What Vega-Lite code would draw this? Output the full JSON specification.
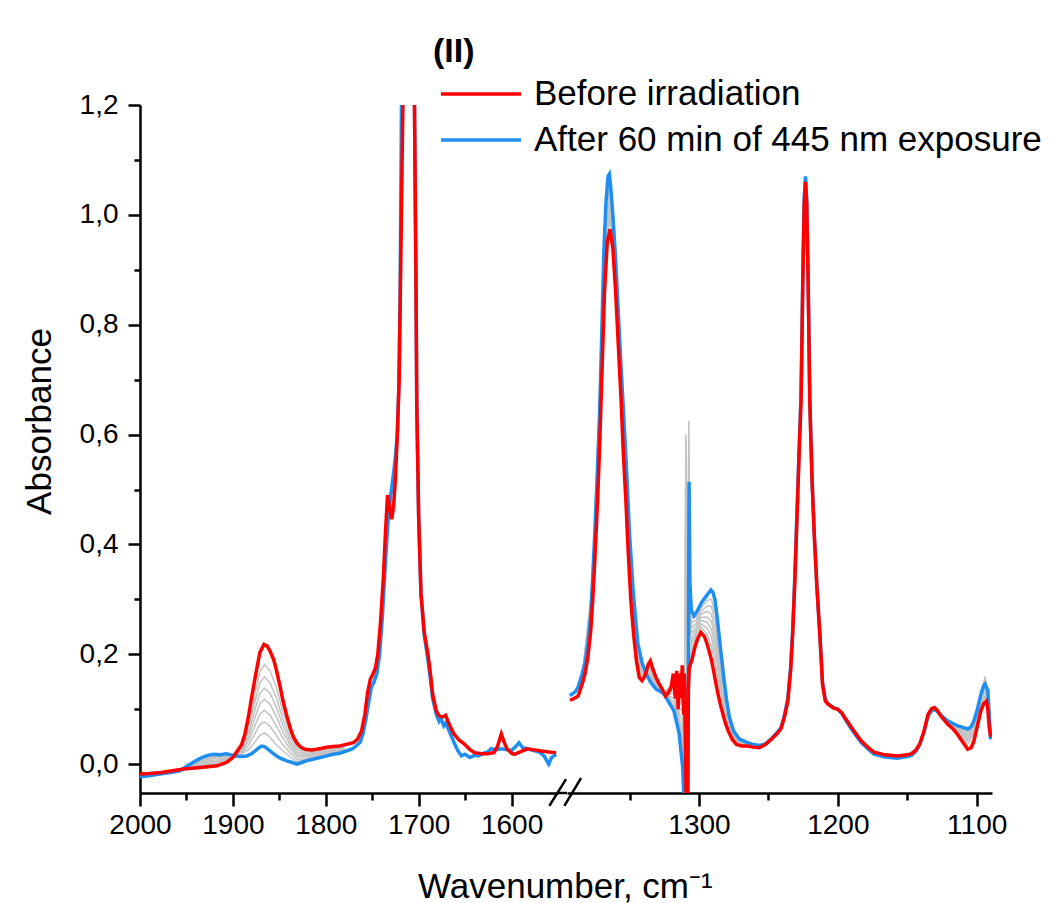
{
 "$schema": "https://vega.github.io/schema/vega-lite/v6.json",
 "background": "white",
 "padding": {"left": 22, "top": 35, "right": 5, "bottom": 5},
 "bounds": "flush",
 "spacing": 9,
 "title": {"text": "Wavenumber, cm⁻¹", "orient": "bottom", "anchor": "start", "frame": "group", "dx": 278, "fontSize": 35, "font": "Liberation Sans", "fontWeight": "normal", "color": "#000", "offset": 31},
 "datasets": {
  "redL": [
   {"s":"Before irradiation","wn":2000,"a":-0.018},{"s":"Before irradiation","wn":1990,"a":-0.017},{"s":"Before irradiation","wn":1977,"a":-0.015},{"s":"Before irradiation","wn":1965,"a":-0.012},{"s":"Before irradiation","wn":1953,"a":-0.009},{"s":"Before irradiation","wn":1935,"a":-0.006},{"s":"Before irradiation","wn":1917,"a":-0.003},{"s":"Before irradiation","wn":1907,"a":0.003},{"s":"Before irradiation","wn":1900,"a":0.012},{"s":"Before irradiation","wn":1896,"a":0.022},{"s":"Before irradiation","wn":1890.5,"a":0.036},{"s":"Before irradiation","wn":1887,"a":0.055},{"s":"Before irradiation","wn":1883.4,"a":0.085},{"s":"Before irradiation","wn":1880,"a":0.12},{"s":"Before irradiation","wn":1876,"a":0.158},{"s":"Before irradiation","wn":1871,"a":0.203},{"s":"Before irradiation","wn":1866.5,"a":0.218},{"s":"Before irradiation","wn":1863,"a":0.215},{"s":"Before irradiation","wn":1860,"a":0.206},{"s":"Before irradiation","wn":1856,"a":0.19},{"s":"Before irradiation","wn":1853,"a":0.17},{"s":"Before irradiation","wn":1849,"a":0.14},{"s":"Before irradiation","wn":1846,"a":0.115},{"s":"Before irradiation","wn":1842,"a":0.088},{"s":"Before irradiation","wn":1838.5,"a":0.067},{"s":"Before irradiation","wn":1835,"a":0.05},{"s":"Before irradiation","wn":1831.3,"a":0.039},{"s":"Before irradiation","wn":1827,"a":0.031},{"s":"Before irradiation","wn":1822.4,"a":0.027},{"s":"Before irradiation","wn":1815,"a":0.026},{"s":"Before irradiation","wn":1810,"a":0.027},{"s":"Before irradiation","wn":1804,"a":0.029},{"s":"Before irradiation","wn":1799,"a":0.031},{"s":"Before irradiation","wn":1792,"a":0.032},{"s":"Before irradiation","wn":1785,"a":0.033},{"s":"Before irradiation","wn":1778,"a":0.036},{"s":"Before irradiation","wn":1770.4,"a":0.039},{"s":"Before irradiation","wn":1766,"a":0.045},{"s":"Before irradiation","wn":1761.4,"a":0.061},{"s":"Before irradiation","wn":1758,"a":0.09},{"s":"Before irradiation","wn":1755,"a":0.13},{"s":"Before irradiation","wn":1752,"a":0.155},{"s":"Before irradiation","wn":1749,"a":0.165},{"s":"Before irradiation","wn":1746.5,"a":0.175},{"s":"Before irradiation","wn":1744,"a":0.2},{"s":"Before irradiation","wn":1741,"a":0.26},{"s":"Before irradiation","wn":1738,"a":0.34},{"s":"Before irradiation","wn":1735.5,"a":0.43},{"s":"Before irradiation","wn":1733.5,"a":0.49},{"s":"Before irradiation","wn":1731.5,"a":0.47},{"s":"Before irradiation","wn":1729,"a":0.446},{"s":"Before irradiation","wn":1727,"a":0.47},{"s":"Before irradiation","wn":1725,"a":0.52},{"s":"Before irradiation","wn":1723,"a":0.6},{"s":"Before irradiation","wn":1721,"a":0.7},{"s":"Before irradiation","wn":1719,"a":0.95},{"s":"Before irradiation","wn":1717,"a":1.2},{"s":"Before irradiation","wn":1714,"a":1.6},{"s":"Before irradiation","wn":1711,"a":1.9},{"s":"Before irradiation","wn":1707,"a":1.6},{"s":"Before irradiation","wn":1704.5,"a":1.2},{"s":"Before irradiation","wn":1703,"a":0.9},{"s":"Before irradiation","wn":1702,"a":0.65},{"s":"Before irradiation","wn":1700,"a":0.45},{"s":"Before irradiation","wn":1697.5,"a":0.31},{"s":"Before irradiation","wn":1694,"a":0.24},{"s":"Before irradiation","wn":1690,"a":0.2},{"s":"Before irradiation","wn":1687,"a":0.16},{"s":"Before irradiation","wn":1685,"a":0.128},{"s":"Before irradiation","wn":1681,"a":0.097},{"s":"Before irradiation","wn":1678,"a":0.088},{"s":"Before irradiation","wn":1674,"a":0.086},{"s":"Before irradiation","wn":1671,"a":0.089},{"s":"Before irradiation","wn":1667,"a":0.072},{"s":"Before irradiation","wn":1662,"a":0.055},{"s":"Before irradiation","wn":1656,"a":0.043},{"s":"Before irradiation","wn":1651,"a":0.037},{"s":"Before irradiation","wn":1645,"a":0.027},{"s":"Before irradiation","wn":1640,"a":0.021},{"s":"Before irradiation","wn":1632,"a":0.019},{"s":"Before irradiation","wn":1626,"a":0.019},{"s":"Before irradiation","wn":1619,"a":0.021},{"s":"Before irradiation","wn":1615,"a":0.033},{"s":"Before irradiation","wn":1611,"a":0.055},{"s":"Before irradiation","wn":1608,"a":0.04},{"s":"Before irradiation","wn":1605,"a":0.028},{"s":"Before irradiation","wn":1600,"a":0.02},{"s":"Before irradiation","wn":1597,"a":0.018},{"s":"Before irradiation","wn":1590,"a":0.023},{"s":"Before irradiation","wn":1583,"a":0.028},{"s":"Before irradiation","wn":1575,"a":0.026},{"s":"Before irradiation","wn":1568,"a":0.024},{"s":"Before irradiation","wn":1560,"a":0.022},{"s":"Before irradiation","wn":1552,"a":0.021}
  ],
  "blueL": [
   {"s":"After 60 min of 445 nm exposure","wn":2000,"a":-0.023},{"s":"After 60 min of 445 nm exposure","wn":1990,"a":-0.021},{"s":"After 60 min of 445 nm exposure","wn":1978.5,"a":-0.018},{"s":"After 60 min of 445 nm exposure","wn":1967,"a":-0.015},{"s":"After 60 min of 445 nm exposure","wn":1957,"a":-0.012},{"s":"After 60 min of 445 nm exposure","wn":1950,"a":-0.004},{"s":"After 60 min of 445 nm exposure","wn":1946,"a":0.0},{"s":"After 60 min of 445 nm exposure","wn":1940,"a":0.006},{"s":"After 60 min of 445 nm exposure","wn":1933.6,"a":0.012},{"s":"After 60 min of 445 nm exposure","wn":1927,"a":0.016},{"s":"After 60 min of 445 nm exposure","wn":1921,"a":0.018},{"s":"After 60 min of 445 nm exposure","wn":1914,"a":0.017},{"s":"After 60 min of 445 nm exposure","wn":1907,"a":0.019},{"s":"After 60 min of 445 nm exposure","wn":1900,"a":0.016},{"s":"After 60 min of 445 nm exposure","wn":1896.6,"a":0.015},{"s":"After 60 min of 445 nm exposure","wn":1891,"a":0.014},{"s":"After 60 min of 445 nm exposure","wn":1885,"a":0.015},{"s":"After 60 min of 445 nm exposure","wn":1880,"a":0.019},{"s":"After 60 min of 445 nm exposure","wn":1876,"a":0.024},{"s":"After 60 min of 445 nm exposure","wn":1872,"a":0.03},{"s":"After 60 min of 445 nm exposure","wn":1869,"a":0.033},{"s":"After 60 min of 445 nm exposure","wn":1866,"a":0.032},{"s":"After 60 min of 445 nm exposure","wn":1862,"a":0.027},{"s":"After 60 min of 445 nm exposure","wn":1857,"a":0.02},{"s":"After 60 min of 445 nm exposure","wn":1853,"a":0.015},{"s":"After 60 min of 445 nm exposure","wn":1848,"a":0.01},{"s":"After 60 min of 445 nm exposure","wn":1842,"a":0.006},{"s":"After 60 min of 445 nm exposure","wn":1836,"a":0.003},{"s":"After 60 min of 445 nm exposure","wn":1831,"a":0.0},{"s":"After 60 min of 445 nm exposure","wn":1826,"a":0.003},{"s":"After 60 min of 445 nm exposure","wn":1821,"a":0.006},{"s":"After 60 min of 445 nm exposure","wn":1814,"a":0.009},{"s":"After 60 min of 445 nm exposure","wn":1806,"a":0.012},{"s":"After 60 min of 445 nm exposure","wn":1799,"a":0.015},{"s":"After 60 min of 445 nm exposure","wn":1792,"a":0.018},{"s":"After 60 min of 445 nm exposure","wn":1785,"a":0.02},{"s":"After 60 min of 445 nm exposure","wn":1778,"a":0.024},{"s":"After 60 min of 445 nm exposure","wn":1771,"a":0.028},{"s":"After 60 min of 445 nm exposure","wn":1767.5,"a":0.033},{"s":"After 60 min of 445 nm exposure","wn":1763,"a":0.04},{"s":"After 60 min of 445 nm exposure","wn":1760,"a":0.055},{"s":"After 60 min of 445 nm exposure","wn":1757,"a":0.08},{"s":"After 60 min of 445 nm exposure","wn":1754,"a":0.11},{"s":"After 60 min of 445 nm exposure","wn":1751,"a":0.14},{"s":"After 60 min of 445 nm exposure","wn":1748,"a":0.15},{"s":"After 60 min of 445 nm exposure","wn":1745,"a":0.165},{"s":"After 60 min of 445 nm exposure","wn":1742,"a":0.2},{"s":"After 60 min of 445 nm exposure","wn":1739,"a":0.27},{"s":"After 60 min of 445 nm exposure","wn":1736,"a":0.36},{"s":"After 60 min of 445 nm exposure","wn":1733,"a":0.44},{"s":"After 60 min of 445 nm exposure","wn":1730,"a":0.49},{"s":"After 60 min of 445 nm exposure","wn":1727,"a":0.53},{"s":"After 60 min of 445 nm exposure","wn":1725,"a":0.56},{"s":"After 60 min of 445 nm exposure","wn":1723,"a":0.6},{"s":"After 60 min of 445 nm exposure","wn":1721.5,"a":0.68},{"s":"After 60 min of 445 nm exposure","wn":1720,"a":0.85},{"s":"After 60 min of 445 nm exposure","wn":1718.5,"a":1.2},{"s":"After 60 min of 445 nm exposure","wn":1716,"a":1.6},{"s":"After 60 min of 445 nm exposure","wn":1711,"a":1.9},{"s":"After 60 min of 445 nm exposure","wn":1707,"a":1.6},{"s":"After 60 min of 445 nm exposure","wn":1704.5,"a":1.2},{"s":"After 60 min of 445 nm exposure","wn":1703,"a":0.9},{"s":"After 60 min of 445 nm exposure","wn":1702,"a":0.65},{"s":"After 60 min of 445 nm exposure","wn":1700,"a":0.45},{"s":"After 60 min of 445 nm exposure","wn":1697.5,"a":0.31},{"s":"After 60 min of 445 nm exposure","wn":1694,"a":0.235},{"s":"After 60 min of 445 nm exposure","wn":1690,"a":0.19},{"s":"After 60 min of 445 nm exposure","wn":1687,"a":0.15},{"s":"After 60 min of 445 nm exposure","wn":1685,"a":0.12},{"s":"After 60 min of 445 nm exposure","wn":1681,"a":0.09},{"s":"After 60 min of 445 nm exposure","wn":1678,"a":0.078},{"s":"After 60 min of 445 nm exposure","wn":1676,"a":0.083},{"s":"After 60 min of 445 nm exposure","wn":1673,"a":0.07},{"s":"After 60 min of 445 nm exposure","wn":1671,"a":0.075},{"s":"After 60 min of 445 nm exposure","wn":1667,"a":0.06},{"s":"After 60 min of 445 nm exposure","wn":1662,"a":0.04},{"s":"After 60 min of 445 nm exposure","wn":1658,"a":0.025},{"s":"After 60 min of 445 nm exposure","wn":1654,"a":0.015},{"s":"After 60 min of 445 nm exposure","wn":1650,"a":0.018},{"s":"After 60 min of 445 nm exposure","wn":1645,"a":0.012},{"s":"After 60 min of 445 nm exposure","wn":1640,"a":0.016},{"s":"After 60 min of 445 nm exposure","wn":1636,"a":0.015},{"s":"After 60 min of 445 nm exposure","wn":1630,"a":0.02},{"s":"After 60 min of 445 nm exposure","wn":1626,"a":0.022},{"s":"After 60 min of 445 nm exposure","wn":1622,"a":0.028},{"s":"After 60 min of 445 nm exposure","wn":1617,"a":0.026},{"s":"After 60 min of 445 nm exposure","wn":1611,"a":0.028},{"s":"After 60 min of 445 nm exposure","wn":1605,"a":0.026},{"s":"After 60 min of 445 nm exposure","wn":1600,"a":0.025},{"s":"After 60 min of 445 nm exposure","wn":1595,"a":0.033},{"s":"After 60 min of 445 nm exposure","wn":1592,"a":0.039},{"s":"After 60 min of 445 nm exposure","wn":1588,"a":0.03},{"s":"After 60 min of 445 nm exposure","wn":1583,"a":0.028},{"s":"After 60 min of 445 nm exposure","wn":1577,"a":0.025},{"s":"After 60 min of 445 nm exposure","wn":1570,"a":0.022},{"s":"After 60 min of 445 nm exposure","wn":1565,"a":0.015},{"s":"After 60 min of 445 nm exposure","wn":1560,"a":0.0},{"s":"After 60 min of 445 nm exposure","wn":1557,"a":0.012},{"s":"After 60 min of 445 nm exposure","wn":1552,"a":0.018}
  ],
  "greyL": [
   {"s":"g1","wn":1955,"a":-0.009},{"s":"g1","wn":1935,"a":-0.002},{"s":"g1","wn":1917,"a":0.001},{"s":"g1","wn":1900,"a":0.015},{"s":"g1","wn":1890,"a":0.034},{"s":"g1","wn":1883,"a":0.074},{"s":"g1","wn":1876,"a":0.131},{"s":"g1","wn":1871,"a":0.168},{"s":"g1","wn":1866,"a":0.181},{"s":"g1","wn":1860,"a":0.17},{"s":"g1","wn":1853,"a":0.139},{"s":"g1","wn":1846,"a":0.094},{"s":"g1","wn":1838,"a":0.055},{"s":"g1","wn":1831,"a":0.031},{"s":"g1","wn":1822,"a":0.023},{"s":"g1","wn":1810,"a":0.024},{"s":"g1","wn":1795,"a":0.029},{"s":"g1","wn":1780,"a":0.033},
   {"s":"g2","wn":1955,"a":-0.009},{"s":"g2","wn":1935,"a":0.0},{"s":"g2","wn":1917,"a":0.004},{"s":"g2","wn":1900,"a":0.015},{"s":"g2","wn":1890,"a":0.031},{"s":"g2","wn":1883,"a":0.066},{"s":"g2","wn":1876,"a":0.115},{"s":"g2","wn":1871,"a":0.148},{"s":"g2","wn":1866,"a":0.159},{"s":"g2","wn":1860,"a":0.148},{"s":"g2","wn":1853,"a":0.12},{"s":"g2","wn":1846,"a":0.081},{"s":"g2","wn":1838,"a":0.047},{"s":"g2","wn":1831,"a":0.027},{"s":"g2","wn":1822,"a":0.02},{"s":"g2","wn":1810,"a":0.022},{"s":"g2","wn":1795,"a":0.028},{"s":"g2","wn":1780,"a":0.031},
   {"s":"g3","wn":1955,"a":-0.009},{"s":"g3","wn":1935,"a":0.002},{"s":"g3","wn":1917,"a":0.006},{"s":"g3","wn":1900,"a":0.015},{"s":"g3","wn":1890,"a":0.029},{"s":"g3","wn":1883,"a":0.058},{"s":"g3","wn":1876,"a":0.1},{"s":"g3","wn":1871,"a":0.129},{"s":"g3","wn":1866,"a":0.138},{"s":"g3","wn":1860,"a":0.129},{"s":"g3","wn":1853,"a":0.103},{"s":"g3","wn":1846,"a":0.07},{"s":"g3","wn":1838,"a":0.04},{"s":"g3","wn":1831,"a":0.022},{"s":"g3","wn":1822,"a":0.018},{"s":"g3","wn":1810,"a":0.02},{"s":"g3","wn":1795,"a":0.026},{"s":"g3","wn":1780,"a":0.03},
   {"s":"g4","wn":1955,"a":-0.009},{"s":"g4","wn":1935,"a":0.004},{"s":"g4","wn":1917,"a":0.008},{"s":"g4","wn":1900,"a":0.015},{"s":"g4","wn":1890,"a":0.026},{"s":"g4","wn":1883,"a":0.05},{"s":"g4","wn":1876,"a":0.086},{"s":"g4","wn":1871,"a":0.11},{"s":"g4","wn":1866,"a":0.118},{"s":"g4","wn":1860,"a":0.109},{"s":"g4","wn":1853,"a":0.086},{"s":"g4","wn":1846,"a":0.058},{"s":"g4","wn":1838,"a":0.034},{"s":"g4","wn":1831,"a":0.018},{"s":"g4","wn":1822,"a":0.015},{"s":"g4","wn":1810,"a":0.018},{"s":"g4","wn":1795,"a":0.024},{"s":"g4","wn":1780,"a":0.029},
   {"s":"g5","wn":1955,"a":-0.01},{"s":"g5","wn":1935,"a":0.006},{"s":"g5","wn":1917,"a":0.011},{"s":"g5","wn":1900,"a":0.015},{"s":"g5","wn":1890,"a":0.024},{"s":"g5","wn":1883,"a":0.043},{"s":"g5","wn":1876,"a":0.071},{"s":"g5","wn":1871,"a":0.091},{"s":"g5","wn":1866,"a":0.098},{"s":"g5","wn":1860,"a":0.089},{"s":"g5","wn":1853,"a":0.069},{"s":"g5","wn":1846,"a":0.047},{"s":"g5","wn":1838,"a":0.027},{"s":"g5","wn":1831,"a":0.014},{"s":"g5","wn":1822,"a":0.013},{"s":"g5","wn":1810,"a":0.016},{"s":"g5","wn":1795,"a":0.023},{"s":"g5","wn":1780,"a":0.027},
   {"s":"g6","wn":1955,"a":-0.01},{"s":"g6","wn":1935,"a":0.008},{"s":"g6","wn":1917,"a":0.013},{"s":"g6","wn":1900,"a":0.015},{"s":"g6","wn":1890,"a":0.021},{"s":"g6","wn":1883,"a":0.035},{"s":"g6","wn":1876,"a":0.056},{"s":"g6","wn":1871,"a":0.072},{"s":"g6","wn":1866,"a":0.077},{"s":"g6","wn":1860,"a":0.069},{"s":"g6","wn":1853,"a":0.052},{"s":"g6","wn":1846,"a":0.035},{"s":"g6","wn":1838,"a":0.02},{"s":"g6","wn":1831,"a":0.009},{"s":"g6","wn":1822,"a":0.01},{"s":"g6","wn":1810,"a":0.014},{"s":"g6","wn":1795,"a":0.021},{"s":"g6","wn":1780,"a":0.026},
   {"s":"g7","wn":1955,"a":-0.01},{"s":"g7","wn":1935,"a":0.01},{"s":"g7","wn":1917,"a":0.015},{"s":"g7","wn":1900,"a":0.016},{"s":"g7","wn":1890,"a":0.019},{"s":"g7","wn":1883,"a":0.027},{"s":"g7","wn":1876,"a":0.041},{"s":"g7","wn":1871,"a":0.052},{"s":"g7","wn":1866,"a":0.057},{"s":"g7","wn":1860,"a":0.049},{"s":"g7","wn":1853,"a":0.035},{"s":"g7","wn":1846,"a":0.024},{"s":"g7","wn":1838,"a":0.013},{"s":"g7","wn":1831,"a":0.005},{"s":"g7","wn":1822,"a":0.008},{"s":"g7","wn":1810,"a":0.012},{"s":"g7","wn":1795,"a":0.02},{"s":"g7","wn":1780,"a":0.025}
  ],
  "redR": [
   {"wn":1393,"a":0.117},{"wn":1391,"a":0.118},{"wn":1389,"a":0.121},{"wn":1387,"a":0.124},{"wn":1384,"a":0.146},{"wn":1382,"a":0.165},{"wn":1380,"a":0.194},{"wn":1378,"a":0.24},{"wn":1376.5,"a":0.297},{"wn":1375,"a":0.37},{"wn":1373,"a":0.479},{"wn":1371.5,"a":0.58},{"wn":1370,"a":0.7},{"wn":1368,"a":0.86},{"wn":1366,"a":0.95},{"wn":1364,"a":0.974},{"wn":1362,"a":0.94},{"wn":1360,"a":0.86},{"wn":1358,"a":0.76},{"wn":1356,"a":0.66},{"wn":1354.5,"a":0.57},{"wn":1352.6,"a":0.479},{"wn":1351,"a":0.39},{"wn":1349,"a":0.297},{"wn":1347,"a":0.235},{"wn":1345,"a":0.188},{"wn":1343,"a":0.158},{"wn":1341,"a":0.152},{"wn":1339.5,"a":0.158},{"wn":1338,"a":0.168},{"wn":1336.5,"a":0.182},{"wn":1335,"a":0.188},{"wn":1333,"a":0.172},{"wn":1331,"a":0.158},{"wn":1329,"a":0.148},{"wn":1327,"a":0.139},{"wn":1325,"a":0.13},{"wn":1324,"a":0.124},{"wn":1322,"a":0.13},{"wn":1320,"a":0.14},{"wn":1318.5,"a":0.165},{"wn":1317,"a":0.12},{"wn":1316,"a":0.17},{"wn":1315,"a":0.1},{"wn":1314,"a":0.165},{"wn":1313,"a":0.12},{"wn":1312,"a":0.18},{"wn":1311,"a":0.09},{"wn":1310.5,"a":0.165},{"wn":1309.8,"a":0.04},{"wn":1309,"a":-0.12},{"wn":1308.2,"a":-0.12},{"wn":1307.6,"a":0.14},{"wn":1307,"a":0.176},{"wn":1305,"a":0.19},{"wn":1303,"a":0.212},{"wn":1301,"a":0.228},{"wn":1298.6,"a":0.24},{"wn":1296,"a":0.232},{"wn":1294,"a":0.218},{"wn":1291,"a":0.19},{"wn":1289,"a":0.164},{"wn":1286.5,"a":0.13},{"wn":1284,"a":0.103},{"wn":1281,"a":0.075},{"wn":1279,"a":0.061},{"wn":1276,"a":0.045},{"wn":1273,"a":0.036},{"wn":1269,"a":0.033},{"wn":1265,"a":0.033},{"wn":1261,"a":0.031},{"wn":1256.6,"a":0.03},{"wn":1252,"a":0.036},{"wn":1248,"a":0.045},{"wn":1244,"a":0.055},{"wn":1241,"a":0.064},{"wn":1238.5,"a":0.085},{"wn":1236,"a":0.115},{"wn":1234,"a":0.17},{"wn":1232.5,"a":0.237},{"wn":1231,"a":0.33},{"wn":1229,"a":0.479},{"wn":1227.8,"a":0.57},{"wn":1226.5,"a":0.66},{"wn":1225.2,"a":0.88},{"wn":1224.2,"a":1.02},{"wn":1223.3,"a":1.06},{"wn":1222.4,"a":1.02},{"wn":1221.4,"a":0.88},{"wn":1220.2,"a":0.66},{"wn":1218.6,"a":0.52},{"wn":1217,"a":0.419},{"wn":1215,"a":0.32},{"wn":1213,"a":0.237},{"wn":1211,"a":0.145},{"wn":1209,"a":0.115},{"wn":1207,"a":0.109},{"wn":1203,"a":0.102},{"wn":1200,"a":0.1},{"wn":1197,"a":0.093},{"wn":1195,"a":0.085},{"wn":1190.5,"a":0.068},{"wn":1186,"a":0.052},{"wn":1183,"a":0.042},{"wn":1178,"a":0.03},{"wn":1174,"a":0.022},{"wn":1166,"a":0.017},{"wn":1157,"a":0.015},{"wn":1150,"a":0.017},{"wn":1147,"a":0.019},{"wn":1144,"a":0.025},{"wn":1141,"a":0.037},{"wn":1138,"a":0.06},{"wn":1135,"a":0.091},{"wn":1132.5,"a":0.101},{"wn":1130.5,"a":0.103},{"wn":1128,"a":0.097},{"wn":1126,"a":0.088},{"wn":1121,"a":0.073},{"wn":1117,"a":0.064},{"wn":1114,"a":0.055},{"wn":1110,"a":0.04},{"wn":1106.5,"a":0.027},{"wn":1104,"a":0.03},{"wn":1102,"a":0.042},{"wn":1099.5,"a":0.07},{"wn":1097,"a":0.097},{"wn":1095,"a":0.11},{"wn":1093,"a":0.115},{"wn":1092,"a":0.1},{"wn":1091,"a":0.067},{"wn":1090,"a":0.05}
  ],
  "blueR": [
   {"wn":1393,"a":0.125},{"wn":1391,"a":0.128},{"wn":1389,"a":0.132},{"wn":1387,"a":0.14},{"wn":1384,"a":0.165},{"wn":1382,"a":0.185},{"wn":1380,"a":0.22},{"wn":1378,"a":0.27},{"wn":1376.5,"a":0.34},{"wn":1375,"a":0.42},{"wn":1373,"a":0.54},{"wn":1371.5,"a":0.64},{"wn":1370,"a":0.78},{"wn":1368.5,"a":0.93},{"wn":1367,"a":1.02},{"wn":1365.5,"a":1.07},{"wn":1364.5,"a":1.074},{"wn":1363.5,"a":1.05},{"wn":1362,"a":1.0},{"wn":1360,"a":0.92},{"wn":1358,"a":0.82},{"wn":1356,"a":0.72},{"wn":1354.3,"a":0.64},{"wn":1352,"a":0.53},{"wn":1350,"a":0.42},{"wn":1347.5,"a":0.32},{"wn":1345.5,"a":0.26},{"wn":1344,"a":0.22},{"wn":1341,"a":0.185},{"wn":1338,"a":0.165},{"wn":1335,"a":0.15},{"wn":1331,"a":0.137},{"wn":1327,"a":0.131},{"wn":1325,"a":0.127},{"wn":1321.5,"a":0.112},{"wn":1318,"a":0.097},{"wn":1316,"a":0.075},{"wn":1314.2,"a":0.055},{"wn":1312.8,"a":0.02},{"wn":1311.7,"a":-0.006},{"wn":1311,"a":-0.05},{"wn":1310.4,"a":-0.12},{"wn":1308.2,"a":-0.12},{"wn":1307.6,"a":0.15},{"wn":1307.1,"a":0.514},{"wn":1306.5,"a":0.33},{"wn":1305.5,"a":0.28},{"wn":1303.6,"a":0.27},{"wn":1301,"a":0.28},{"wn":1298,"a":0.295},{"wn":1295,"a":0.305},{"wn":1293,"a":0.312},{"wn":1291.4,"a":0.317},{"wn":1290,"a":0.313},{"wn":1288.5,"a":0.3},{"wn":1287,"a":0.27},{"wn":1285.5,"a":0.235},{"wn":1284,"a":0.2},{"wn":1282,"a":0.155},{"wn":1280,"a":0.115},{"wn":1278,"a":0.085},{"wn":1275,"a":0.06},{"wn":1271,"a":0.046},{"wn":1266,"a":0.04},{"wn":1261,"a":0.036},{"wn":1256,"a":0.034},{"wn":1252,"a":0.037},{"wn":1248,"a":0.046},{"wn":1244,"a":0.057},{"wn":1241,"a":0.066},{"wn":1238.5,"a":0.088},{"wn":1236,"a":0.12},{"wn":1234,"a":0.175},{"wn":1232.5,"a":0.245},{"wn":1231,"a":0.34},{"wn":1229,"a":0.49},{"wn":1227.8,"a":0.58},{"wn":1226.5,"a":0.67},{"wn":1225.2,"a":0.89},{"wn":1224.2,"a":1.03},{"wn":1223.3,"a":1.07},{"wn":1222.4,"a":1.03},{"wn":1221.4,"a":0.89},{"wn":1220.2,"a":0.67},{"wn":1218.6,"a":0.52},{"wn":1217,"a":0.42},{"wn":1215,"a":0.32},{"wn":1213,"a":0.24},{"wn":1211,"a":0.148},{"wn":1209,"a":0.117},{"wn":1207,"a":0.11},{"wn":1203,"a":0.103},{"wn":1200,"a":0.1},{"wn":1197,"a":0.092},{"wn":1195,"a":0.083},{"wn":1190.5,"a":0.065},{"wn":1186,"a":0.049},{"wn":1183,"a":0.039},{"wn":1178,"a":0.027},{"wn":1174,"a":0.018},{"wn":1166,"a":0.013},{"wn":1157,"a":0.011},{"wn":1150,"a":0.014},{"wn":1147,"a":0.016},{"wn":1144,"a":0.023},{"wn":1141,"a":0.035},{"wn":1138,"a":0.058},{"wn":1135,"a":0.088},{"wn":1132.5,"a":0.097},{"wn":1130.5,"a":0.1},{"wn":1128,"a":0.095},{"wn":1126,"a":0.09},{"wn":1121,"a":0.079},{"wn":1117,"a":0.074},{"wn":1114,"a":0.07},{"wn":1110,"a":0.067},{"wn":1106.5,"a":0.064},{"wn":1104,"a":0.068},{"wn":1102,"a":0.079},{"wn":1099.5,"a":0.1},{"wn":1097,"a":0.127},{"wn":1095,"a":0.143},{"wn":1094,"a":0.146},{"wn":1093,"a":0.14},{"wn":1092,"a":0.134},{"wn":1091,"a":0.09},{"wn":1090,"a":0.045}
  ],
  "greyR": [
   {"s":"g1a","wn":1384,"a":0.15},{"s":"g1a","wn":1376.5,"a":0.306},{"s":"g1a","wn":1370.6,"a":0.676},{"s":"g1a","wn":1366,"a":0.96},{"s":"g1a","wn":1364,"a":0.993},{"s":"g1a","wn":1362,"a":0.952},{"s":"g1a","wn":1360,"a":0.864},{"s":"g1a","wn":1356,"a":0.672},{"s":"g1a","wn":1352.6,"a":0.495},{"s":"g1a","wn":1349,"a":0.312},{"s":"g1a","wn":1345,"a":0.198},{"s":"g1a","wn":1342,"a":0.162},{"s":"g1a","wn":1338,"a":0.162},{"s":"g1a","wn":1335,"a":0.18},{"s":"g1a","wn":1331,"a":0.153},{"s":"g1a","wn":1325,"a":0.129},{"s":"g1a","wn":1318,"a":0.151},{"s":"g1a","wn":1314,"a":0.115},{"s":"g1a","wn":1312,"a":0.144},{"s":"g1a","wn":1310.5,"a":0.1},{"s":"g1a","wn":1309.4,"a":0.6},{"s":"g1a","wn":1308.6,"a":0.1},{"s":"g1a","wn":1305,"a":0.208},{"s":"g1a","wn":1302,"a":0.233},{"s":"g1a","wn":1298.6,"a":0.25},{"s":"g1a","wn":1294,"a":0.236},{"s":"g1a","wn":1291,"a":0.215},{"s":"g1a","wn":1288,"a":0.178},{"s":"g1a","wn":1285,"a":0.138},{"s":"g1a","wn":1282,"a":0.098},{"s":"g1a","wn":1279,"a":0.068},{"s":"g1a","wn":1275,"a":0.047},{"s":"g1a","wn":1270,"a":0.036},{"s":"g1a","wn":1262,"a":0.032},{"s":"g1a","wn":1255,"a":0.032},
   {"s":"g2a","wn":1384,"a":0.152},{"s":"g2a","wn":1376.5,"a":0.311},{"s":"g2a","wn":1370.6,"a":0.686},{"s":"g2a","wn":1366,"a":0.972},{"s":"g2a","wn":1364,"a":1.005},{"s":"g2a","wn":1362,"a":0.959},{"s":"g2a","wn":1360,"a":0.872},{"s":"g2a","wn":1356,"a":0.679},{"s":"g2a","wn":1352.6,"a":0.505},{"s":"g2a","wn":1349,"a":0.32},{"s":"g2a","wn":1345,"a":0.205},{"s":"g2a","wn":1342,"a":0.166},{"s":"g2a","wn":1338,"a":0.162},{"s":"g2a","wn":1335,"a":0.176},{"s":"g2a","wn":1331,"a":0.151},{"s":"g2a","wn":1325,"a":0.129},{"s":"g2a","wn":1318,"a":0.143},{"s":"g2a","wn":1314,"a":0.106},{"s":"g2a","wn":1312,"a":0.122},{"s":"g2a","wn":1310.5,"a":0.05},{"s":"g2a","wn":1309,"a":-0.1},{"s":"g2a","wn":1307.3,"a":0.625},{"s":"g2a","wn":1306.5,"a":0.25},{"s":"g2a","wn":1305,"a":0.219},{"s":"g2a","wn":1302,"a":0.239},{"s":"g2a","wn":1298.6,"a":0.256},{"s":"g2a","wn":1294,"a":0.247},{"s":"g2a","wn":1291,"a":0.231},{"s":"g2a","wn":1288,"a":0.195},{"s":"g2a","wn":1285,"a":0.15},{"s":"g2a","wn":1282,"a":0.106},{"s":"g2a","wn":1279,"a":0.072},{"s":"g2a","wn":1275,"a":0.049},{"s":"g2a","wn":1270,"a":0.037},{"s":"g2a","wn":1262,"a":0.032},{"s":"g2a","wn":1255,"a":0.032},
   {"s":"g3a","wn":1384,"a":0.154},{"s":"g3a","wn":1376.5,"a":0.315},{"s":"g3a","wn":1370.6,"a":0.694},{"s":"g3a","wn":1366,"a":0.983},{"s":"g3a","wn":1364,"a":1.015},{"s":"g3a","wn":1362,"a":0.966},{"s":"g3a","wn":1360,"a":0.88},{"s":"g3a","wn":1356,"a":0.686},{"s":"g3a","wn":1352.6,"a":0.514},{"s":"g3a","wn":1349,"a":0.329},{"s":"g3a","wn":1345,"a":0.21},{"s":"g3a","wn":1342,"a":0.17},{"s":"g3a","wn":1338,"a":0.163},{"s":"g3a","wn":1335,"a":0.172},{"s":"g3a","wn":1331,"a":0.148},{"s":"g3a","wn":1325,"a":0.129},{"s":"g3a","wn":1318,"a":0.135},{"s":"g3a","wn":1314,"a":0.098},{"s":"g3a","wn":1312,"a":0.101},{"s":"g3a","wn":1310.5,"a":0.02},{"s":"g3a","wn":1309.4,"a":0.59},{"s":"g3a","wn":1308.5,"a":0.05},{"s":"g3a","wn":1305,"a":0.229},{"s":"g3a","wn":1302,"a":0.245},{"s":"g3a","wn":1298.6,"a":0.262},{"s":"g3a","wn":1294,"a":0.258},{"s":"g3a","wn":1291,"a":0.245},{"s":"g3a","wn":1288,"a":0.21},{"s":"g3a","wn":1285,"a":0.161},{"s":"g3a","wn":1282,"a":0.113},{"s":"g3a","wn":1279,"a":0.076},{"s":"g3a","wn":1275,"a":0.051},{"s":"g3a","wn":1270,"a":0.038},{"s":"g3a","wn":1262,"a":0.033},{"s":"g3a","wn":1255,"a":0.032},
   {"s":"g4a","wn":1384,"a":0.156},{"s":"g4a","wn":1376.5,"a":0.32},{"s":"g4a","wn":1370.6,"a":0.703},{"s":"g4a","wn":1366,"a":0.994},{"s":"g4a","wn":1364,"a":1.026},{"s":"g4a","wn":1362,"a":0.972},{"s":"g4a","wn":1360,"a":0.888},{"s":"g4a","wn":1356,"a":0.692},{"s":"g4a","wn":1352.6,"a":0.523},{"s":"g4a","wn":1349,"a":0.336},{"s":"g4a","wn":1345,"a":0.216},{"s":"g4a","wn":1342,"a":0.174},{"s":"g4a","wn":1338,"a":0.163},{"s":"g4a","wn":1335,"a":0.167},{"s":"g4a","wn":1331,"a":0.146},{"s":"g4a","wn":1325,"a":0.128},{"s":"g4a","wn":1318,"a":0.128},{"s":"g4a","wn":1314,"a":0.09},{"s":"g4a","wn":1312,"a":0.08},{"s":"g4a","wn":1310.5,"a":-0.1},{"s":"g4a","wn":1308.5,"a":-0.1},{"s":"g4a","wn":1307.3,"a":0.6},{"s":"g4a","wn":1306.5,"a":0.26},{"s":"g4a","wn":1305,"a":0.239},{"s":"g4a","wn":1302,"a":0.251},{"s":"g4a","wn":1298.6,"a":0.267},{"s":"g4a","wn":1294,"a":0.268},{"s":"g4a","wn":1291,"a":0.259},{"s":"g4a","wn":1288,"a":0.226},{"s":"g4a","wn":1285,"a":0.173},{"s":"g4a","wn":1282,"a":0.12},{"s":"g4a","wn":1279,"a":0.079},{"s":"g4a","wn":1275,"a":0.053},{"s":"g4a","wn":1270,"a":0.039},{"s":"g4a","wn":1262,"a":0.033},{"s":"g4a","wn":1255,"a":0.032},
   {"s":"g5a","wn":1384,"a":0.158},{"s":"g5a","wn":1376.5,"a":0.325},{"s":"g5a","wn":1370.6,"a":0.712},{"s":"g5a","wn":1366,"a":1.005},{"s":"g5a","wn":1364,"a":1.036},{"s":"g5a","wn":1362,"a":0.979},{"s":"g5a","wn":1360,"a":0.896},{"s":"g5a","wn":1356,"a":0.699},{"s":"g5a","wn":1352.6,"a":0.532},{"s":"g5a","wn":1349,"a":0.344},{"s":"g5a","wn":1345,"a":0.222},{"s":"g5a","wn":1342,"a":0.178},{"s":"g5a","wn":1338,"a":0.164},{"s":"g5a","wn":1335,"a":0.163},{"s":"g5a","wn":1331,"a":0.143},{"s":"g5a","wn":1325,"a":0.128},{"s":"g5a","wn":1318,"a":0.12},{"s":"g5a","wn":1314,"a":0.081},{"s":"g5a","wn":1312,"a":0.06},{"s":"g5a","wn":1310.5,"a":-0.1},{"s":"g5a","wn":1308.5,"a":-0.1},{"s":"g5a","wn":1307.2,"a":0.57},{"s":"g5a","wn":1306.3,"a":0.27},{"s":"g5a","wn":1305,"a":0.249},{"s":"g5a","wn":1302,"a":0.256},{"s":"g5a","wn":1298.6,"a":0.273},{"s":"g5a","wn":1294,"a":0.278},{"s":"g5a","wn":1291,"a":0.273},{"s":"g5a","wn":1288,"a":0.241},{"s":"g5a","wn":1285,"a":0.184},{"s":"g5a","wn":1282,"a":0.127},{"s":"g5a","wn":1279,"a":0.083},{"s":"g5a","wn":1275,"a":0.055},{"s":"g5a","wn":1270,"a":0.04},{"s":"g5a","wn":1262,"a":0.034},{"s":"g5a","wn":1255,"a":0.033},
   {"s":"g6a","wn":1384,"a":0.16},{"s":"g6a","wn":1376.5,"a":0.33},{"s":"g6a","wn":1370.6,"a":0.721},{"s":"g6a","wn":1366,"a":1.016},{"s":"g6a","wn":1364,"a":1.047},{"s":"g6a","wn":1362,"a":0.986},{"s":"g6a","wn":1360,"a":0.903},{"s":"g6a","wn":1356,"a":0.706},{"s":"g6a","wn":1352.6,"a":0.541},{"s":"g6a","wn":1349,"a":0.352},{"s":"g6a","wn":1345,"a":0.228},{"s":"g6a","wn":1342,"a":0.182},{"s":"g6a","wn":1338,"a":0.164},{"s":"g6a","wn":1335,"a":0.159},{"s":"g6a","wn":1331,"a":0.141},{"s":"g6a","wn":1325,"a":0.128},{"s":"g6a","wn":1318,"a":0.113},{"s":"g6a","wn":1314,"a":0.073},{"s":"g6a","wn":1312,"a":0.039},{"s":"g6a","wn":1310.5,"a":-0.1},{"s":"g6a","wn":1308.5,"a":-0.1},{"s":"g6a","wn":1307.2,"a":0.55},{"s":"g6a","wn":1306.3,"a":0.27},{"s":"g6a","wn":1305,"a":0.258},{"s":"g6a","wn":1302,"a":0.262},{"s":"g6a","wn":1298.6,"a":0.278},{"s":"g6a","wn":1294,"a":0.288},{"s":"g6a","wn":1291,"a":0.287},{"s":"g6a","wn":1288,"a":0.256},{"s":"g6a","wn":1285,"a":0.195},{"s":"g6a","wn":1282,"a":0.134},{"s":"g6a","wn":1279,"a":0.087},{"s":"g6a","wn":1275,"a":0.057},{"s":"g6a","wn":1270,"a":0.042},{"s":"g6a","wn":1262,"a":0.035},{"s":"g6a","wn":1255,"a":0.033},
   {"s":"g7a","wn":1384,"a":0.163},{"s":"g7a","wn":1376.5,"a":0.334},{"s":"g7a","wn":1370.6,"a":0.73},{"s":"g7a","wn":1366,"a":1.027},{"s":"g7a","wn":1364,"a":1.058},{"s":"g7a","wn":1362,"a":0.992},{"s":"g7a","wn":1360,"a":0.911},{"s":"g7a","wn":1356,"a":0.712},{"s":"g7a","wn":1352.6,"a":0.549},{"s":"g7a","wn":1349,"a":0.361},{"s":"g7a","wn":1345,"a":0.233},{"s":"g7a","wn":1342,"a":0.185},{"s":"g7a","wn":1338,"a":0.164},{"s":"g7a","wn":1335,"a":0.155},{"s":"g7a","wn":1331,"a":0.138},{"s":"g7a","wn":1325,"a":0.127},{"s":"g7a","wn":1318,"a":0.106},{"s":"g7a","wn":1314,"a":0.065},{"s":"g7a","wn":1312,"a":0.018},{"s":"g7a","wn":1310.5,"a":-0.1},{"s":"g7a","wn":1308.5,"a":-0.1},{"s":"g7a","wn":1307.2,"a":0.53},{"s":"g7a","wn":1306.3,"a":0.27},{"s":"g7a","wn":1305,"a":0.268},{"s":"g7a","wn":1302,"a":0.268},{"s":"g7a","wn":1298.6,"a":0.284},{"s":"g7a","wn":1294,"a":0.298},{"s":"g7a","wn":1291,"a":0.3},{"s":"g7a","wn":1288,"a":0.272},{"s":"g7a","wn":1285,"a":0.207},{"s":"g7a","wn":1282,"a":0.142},{"s":"g7a","wn":1279,"a":0.091},{"s":"g7a","wn":1275,"a":0.06},{"s":"g7a","wn":1270,"a":0.044},{"s":"g7a","wn":1262,"a":0.035},{"s":"g7a","wn":1255,"a":0.033},
   {"s":"g1b","wn":1130,"a":0.103},{"s":"g1b","wn":1121,"a":0.074},{"s":"g1b","wn":1114,"a":0.058},{"s":"g1b","wn":1107,"a":0.035},{"s":"g1b","wn":1102,"a":0.049},{"s":"g1b","wn":1097,"a":0.103},{"s":"g1b","wn":1094,"a":0.125},{"s":"g1b","wn":1091,"a":0.07},
   {"s":"g2b","wn":1130,"a":0.103},{"s":"g2b","wn":1121,"a":0.075},{"s":"g2b","wn":1114,"a":0.06},{"s":"g2b","wn":1107,"a":0.04},{"s":"g2b","wn":1102,"a":0.054},{"s":"g2b","wn":1097,"a":0.107},{"s":"g2b","wn":1094,"a":0.135},{"s":"g2b","wn":1091,"a":0.08},
   {"s":"g3b","wn":1130,"a":0.102},{"s":"g3b","wn":1121,"a":0.075},{"s":"g3b","wn":1114,"a":0.061},{"s":"g3b","wn":1107,"a":0.043},{"s":"g3b","wn":1102,"a":0.058},{"s":"g3b","wn":1097,"a":0.11},{"s":"g3b","wn":1094,"a":0.145},{"s":"g3b","wn":1091,"a":0.09},
   {"s":"g4b","wn":1130,"a":0.102},{"s":"g4b","wn":1121,"a":0.076},{"s":"g4b","wn":1114,"a":0.063},{"s":"g4b","wn":1107,"a":0.047},{"s":"g4b","wn":1102,"a":0.062},{"s":"g4b","wn":1097,"a":0.113},{"s":"g4b","wn":1094,"a":0.152},{"s":"g4b","wn":1091,"a":0.1},
   {"s":"g5b","wn":1130,"a":0.101},{"s":"g5b","wn":1121,"a":0.077},{"s":"g5b","wn":1114,"a":0.065},{"s":"g5b","wn":1107,"a":0.051},{"s":"g5b","wn":1102,"a":0.066},{"s":"g5b","wn":1097,"a":0.117},{"s":"g5b","wn":1094,"a":0.158},{"s":"g5b","wn":1091,"a":0.11},
   {"s":"g6b","wn":1130,"a":0.101},{"s":"g6b","wn":1121,"a":0.078},{"s":"g6b","wn":1114,"a":0.066},{"s":"g6b","wn":1107,"a":0.055},{"s":"g6b","wn":1102,"a":0.07},{"s":"g6b","wn":1097,"a":0.12},{"s":"g6b","wn":1094,"a":0.16},{"s":"g6b","wn":1091,"a":0.1},
   {"s":"g7b","wn":1130,"a":0.1},{"s":"g7b","wn":1121,"a":0.078},{"s":"g7b","wn":1114,"a":0.068},{"s":"g7b","wn":1107,"a":0.059},{"s":"g7b","wn":1102,"a":0.074},{"s":"g7b","wn":1097,"a":0.123},{"s":"g7b","wn":1094,"a":0.155},{"s":"g7b","wn":1091,"a":0.09}
  ],
  "breaks": [
   {"x1":1407.7,"x2":1395.7,"y1":-0.0759,"y2":-0.0273},
   {"x1":1396.9,"x2":1384.9,"y1":-0.0759,"y2":-0.0255},
   {"x1":1401.5,"x2":1395,"y1":-0.0525,"y2":-0.0525}
  ]
 },
 "hconcat": [
  {
   "width": 418,
   "height": 688,
   "encoding": {
    "x": {"field": "wn", "type": "quantitative", "scale": {"domain": [2000, 1550], "nice": false, "zero": false},
     "axis": {"values": [2000,1950,1900,1850,1800,1750,1700,1650,1600], "format": "d", "labelExpr": "datum.value % 100 == 0 ? datum.label : ''", "labelOverlap": false, "labelFlush": false, "tickSize": {"condition": {"test": "datum.value % 100 != 0", "value": 7}, "value": 13}, "labelPadding": 5, "title": null}},
    "y": {"field": "a", "type": "quantitative", "scale": {"domain": [-0.0525, 1.2], "nice": false, "zero": false},
     "axis": {"values": [0,0.1,0.2,0.3,0.4,0.5,0.6,0.7,0.8,0.9,1.0,1.1,1.2], "labelExpr": "round(datum.value*10) % 2 != 0 ? '' : replace(format(datum.value,'.1f'),'.',',')", "labelOverlap": false, "labelFlush": false, "tickSize": {"condition": {"test": "round(datum.value*10) % 2 != 0", "value": 6}, "value": 12}, "labelPadding": 10, "title": "Absorbance", "titleX": -90, "titleY": 316, "titleBaseline": "alphabetic"}}
   },
   "layer": [
    {"data": {"name": "greyL"}, "mark": {"type": "line", "clip": true, "color": "#c2c2c2", "strokeWidth": 1.5}, "encoding": {"detail": {"field": "s"}}},
    {"data": {"name": "blueL"}, "mark": {"type": "line", "clip": true, "strokeWidth": 3.5},
     "encoding": {"color": {"field": "s", "type": "nominal", "scale": {"domain": ["Before irradiation", "After 60 min of 445 nm exposure"], "range": ["#ff0000", "#1f8ef1"]},
      "legend": {"title": "(II)", "orient": "none", "legendX": 293, "legendY": -70, "titleFontSize": 34, "titleFont": "Liberation Sans", "titleFontWeight": "bold", "titleColor": "#000", "titlePadding": 3, "labelFontSize": 35, "labelFont": "Liberation Sans", "labelColor": "#000", "labelOffset": 31, "labelLimit": 0, "symbolType": "M-2,0H2", "symbolSize": 1600, "symbolStrokeWidth": 3.5, "symbolOffset": 26, "rowPadding": 6}}}},
    {"data": {"name": "redL"}, "mark": {"type": "line", "clip": true, "strokeWidth": 3.5},
     "encoding": {"color": {"field": "s", "type": "nominal"}}}
   ]
  },
  {
   "width": 425,
   "height": 688,
   "encoding": {
    "x": {"field": "wn", "type": "quantitative", "scale": {"domain": [1395, 1089], "nice": false, "zero": false},
     "axis": {"values": [1350,1300,1250,1200,1150,1100], "format": "d", "labelExpr": "datum.value % 100 == 0 ? datum.label : ''", "labelOverlap": false, "labelFlush": false, "tickSize": {"condition": {"test": "datum.value % 100 != 0", "value": 7}, "value": 13}, "labelPadding": 5, "title": null}},
    "y": {"field": "a", "type": "quantitative", "scale": {"domain": [-0.0525, 1.2], "nice": false, "zero": false}, "axis": null}
   },
   "layer": [
    {"data": {"name": "greyR"}, "mark": {"type": "line", "clip": true, "color": "#c2c2c2", "strokeWidth": 1.5}, "encoding": {"detail": {"field": "s"}}},
    {"data": {"name": "blueR"}, "mark": {"type": "line", "clip": true, "strokeWidth": 3.5, "color": "#1f8ef1"}},
    {"data": {"name": "redR"}, "mark": {"type": "line", "clip": true, "strokeWidth": 3.5, "color": "#ff0000"}},
    {"data": {"name": "breaks"}, "mark": {"type": "rule", "color": "#000", "strokeWidth": 2.5},
     "encoding": {"x": {"field": "x1", "type": "quantitative"}, "x2": {"field": "x2"}, "y": {"field": "y1", "type": "quantitative"}, "y2": {"field": "y2"}}}
   ]
  }
 ],
 "config": {
  "view": {"stroke": null},
  "font": "Liberation Sans",
  "axis": {"domainColor": "#000", "domainWidth": 2.5, "tickColor": "#000", "tickWidth": 2.5, "labelFont": "Liberation Sans", "labelFontSize": 28, "labelColor": "#000", "titleFont": "Liberation Sans", "titleFontSize": 35, "titleFontWeight": "normal", "titleColor": "#000", "grid": false}
 }
}
